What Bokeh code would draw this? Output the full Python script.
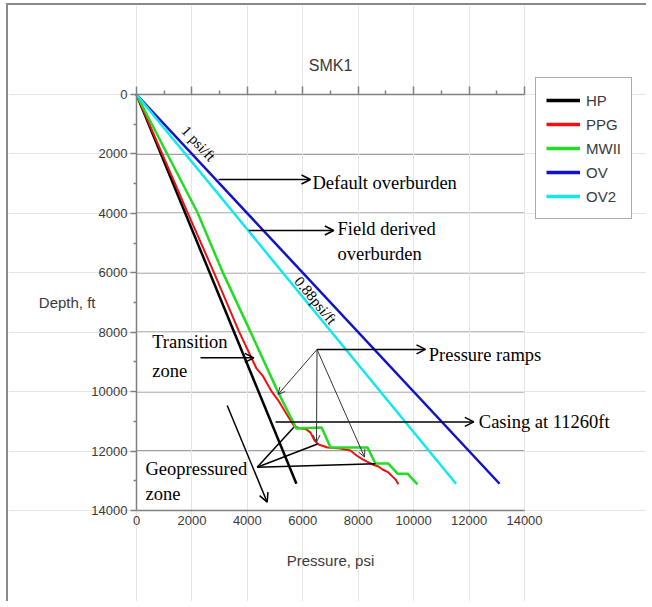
from bokeh.plotting import figure
from bokeh.models import (Range1d, LinearAxis, FixedTicker, Label, Arrow, OpenHead,
                          Legend, LegendItem)
from bokeh.embed import file_html
from bokeh.resources import INLINE

# ---------------- data ----------------
hp_depth = [0, 13100]
hp_pressure = [0, 5770]

ppg_depth = [0, 3970, 5960, 7980, 9220, 9460, 10000, 10300, 10700, 10970, 11170, 11240,
             11270, 11380, 11640, 11780, 11880, 11910, 11980, 12150, 12280, 12350, 12450,
             12520, 12620, 12720, 12860, 12960, 13120]
ppg_pressure = [0, 1840, 2780, 3700, 4330, 4550, 4880, 5120, 5380, 5560, 5700, 5920,
                6130, 6280, 6420, 6570, 6890, 7360, 7720, 7940, 8160, 8300, 8520,
                8730, 8880, 9090, 9240, 9350, 9450]

mw_depth = [0, 3970, 5960, 7980, 10000, 11240, 11210, 11880, 11880, 12420, 12420, 12760, 12760, 13120]
mw_pressure = [0, 2200, 3100, 4110, 5100, 5770, 6680, 7000, 8340, 8620, 9090, 9420, 9780, 10140]

ov_depth = [0, 13100]
ov_pressure = [0, 13100]

ov2_depth = [0, 13100]
ov2_pressure = [0, 11530]

series_names = ["HP", "PPG", "MWII", "OV", "OV2"]
series_colors = ["#000000", "#ee1111", "#22dd22", "#1111cc", "#11e8f0"]

x_ticks = [0, 2000, 4000, 6000, 8000, 10000, 12000, 14000]
x_minor = [1000, 3000, 5000, 7000, 9000, 11000, 13000]
y_ticks = [0, 2000, 4000, 6000, 8000, 10000, 12000, 14000]
y_minor = [1000, 3000, 5000, 7000, 9000, 11000, 13000]
grid_depths = [2000, 4000, 6000, 8000, 10000, 12000]

# ---------------- geometry ----------------
W, H = 640, 598                 # canvas size
FL, FT = 128, 89                # canvas px of pressure 0 / depth 0
KX = 388 / 14000                # px per psi
KY = 416 / 14000                # px per ft
x0 = -FL / KX
y0 = -FT / KY

p = figure(width=W, height=H,
           x_range=Range1d(x0, x0 + W / KX), y_range=Range1d(y0 + H / KY, y0),
           output_backend="svg", toolbar_location=None, title=None,
           x_axis_location=None, y_axis_location=None,
           min_border_left=0, min_border_right=0, min_border_top=0, min_border_bottom=0)
p.outline_line_color = None
p.background_fill_color = "white"
p.border_fill_color = "white"
p.styles = {"margin-left": "6px", "margin-top": "3px",
            "border-left": "2px solid #8a8a8a", "border-top": "2px solid #8a8a8a"}

AX = "#808080"
TXT = "#3a3a3a"
SANS = "Liberation Sans"
SERIF = "Liberation Serif"

# top axis at depth 0: ticks only
top = LinearAxis(ticker=FixedTicker(ticks=x_ticks, minor_ticks=x_minor),
                 fixed_location=0, bounds=(0, 14000),
                 axis_line_color=AX, axis_line_width=1.5,
                 major_tick_line_color=AX, minor_tick_line_color=AX,
                 major_tick_line_width=1.5, minor_tick_line_width=1.5,
                 major_tick_out=8, major_tick_in=0, minor_tick_out=4, minor_tick_in=0,
                 major_label_overrides={t: "" for t in x_ticks})
p.add_layout(top, "above")

# bottom axis at depth 14000: labels only
bottom = LinearAxis(ticker=FixedTicker(ticks=x_ticks),
                    fixed_location=14000, bounds=(0, 14000),
                    axis_line_color=AX, axis_line_width=1.5,
                    major_tick_line_color=None, minor_tick_line_color=None,
                    major_tick_out=0, major_tick_in=0, minor_tick_out=0, minor_tick_in=0,
                    major_label_standoff=5,
                    major_label_text_font=SANS, major_label_text_font_size="13px",
                    major_label_text_color=TXT)
p.add_layout(bottom, "below")

left = LinearAxis(ticker=FixedTicker(ticks=y_ticks, minor_ticks=y_minor),
                  fixed_location=0, bounds=(0, 14000),
                  axis_line_color=AX, axis_line_width=1.5,
                  major_tick_line_color=AX, minor_tick_line_color=AX,
                  major_tick_line_width=1.5, minor_tick_line_width=1.5,
                  major_tick_out=6, major_tick_in=0, minor_tick_out=3, minor_tick_in=0,
                  major_label_standoff=3,
                  major_label_text_font=SANS, major_label_text_font_size="13px",
                  major_label_text_color=TXT)
p.add_layout(left, "left")

# horizontal grid lines over the pressure span
n = len(grid_depths)
p.segment(x0=[x_ticks[0]] * n, x1=[x_ticks[-1]] * n, y0=grid_depths, y1=grid_depths,
          line_color=AX, line_width=1.5, level="underlay")

# ---------------- series ----------------
data = [(hp_pressure, hp_depth, 2.5), (ppg_pressure, ppg_depth, 2),
        (mw_pressure, mw_depth, 2.5), (ov_pressure, ov_depth, 2.5),
        (ov2_pressure, ov2_depth, 2.5)]
items = []
for (xs, ys, lw), name, col in zip(data, series_names, series_colors):
    p.line(xs, ys, line_color=col, line_width=lw)
    # one-point line: draws nothing in the plot, gives a thick legend swatch
    proxy = p.line(xs[:1], ys[:1], line_color=col, line_width=3.5)
    items.append(LegendItem(label=name, renderers=[proxy]))

legend = Legend(items=items, location=(527, 384), orientation="vertical",
                border_line_color="#555555", border_line_width=1.5,
                background_fill_color="white", background_fill_alpha=1.0,
                padding=10, spacing=0, margin=0,
                glyph_width=34, glyph_height=24, label_height=24, label_standoff=6,
                label_text_font=SANS, label_text_font_size="15px", label_text_color=TXT)
p.add_layout(legend)

# ---------------- texts ----------------
def lab(x, y, t, font=SERIF, size="18.5px", align="left", color="black", angle=0):
    p.add_layout(Label(x=x, y=y, text=t, text_font=font, text_font_size=size,
                       text_align=align, text_baseline="middle", text_color=color,
                       angle=angle, angle_units="deg"))

lab(7000, -976, "SMK1", font=SANS, size="16px", align="center", color=TXT)
lab(-1479, 7000, "Depth, ft", font=SANS, size="15px", align="right", color=TXT)
lab(7000, 15683, "Pressure, psi", font=SANS, size="15px", align="center", color=TXT)

lab(2237, 1649, "1 psi/ft", size="15px", align="center", angle=-47)
lab(6459, 6933, "0.88psi/ft", size="15px", align="center", angle=-50.6)

lab(6351, 2995, "Default overburden")
lab(7253, 4510, "Field derived")
lab(7253, 5351, "overburden")
lab(566, 8336, "Transition")
lab(566, 9289, "zone")
lab(325, 12597, "Geopressured")
lab(325, 13438, "zone")
lab(10547, 8750, "Pressure ramps")
lab(12351, 11005, "Casing at 11260ft")

# ---------------- arrows ----------------
def arr(xa, ya, xb, yb, head=True, lw=1.5, size=9, color="black"):
    end = OpenHead(size=size, line_width=lw, line_color=color) if head else None
    p.add_layout(Arrow(x_start=xa, y_start=ya, x_end=xb, y_end=yb, end=end,
                       line_width=lw, line_color=color))

arr(2959, 2861, 6278, 2861)
arr(4052, 4577, 7119, 4577)
arr(2309, 8861, 4233, 8861)
arr(3273, 10466, 4716, 13720)
arr(5016, 11020, 12171, 11020)
arr(6513, 8580, 10428, 8580)
arr(6513, 8580, 5106, 10096, lw=1, size=7, color="#333333")
arr(6513, 8580, 6495, 11695, lw=1, size=7, color="#333333")
arr(6513, 8580, 8227, 12199, lw=1, size=7, color="#333333")
arr(4355, 12543, 5676, 11197, head=False)
arr(4355, 12543, 6531, 11762, head=False)
arr(4355, 12543, 8624, 12428, head=False)

open("out.html", "w").write(file_html(p, INLINE))
